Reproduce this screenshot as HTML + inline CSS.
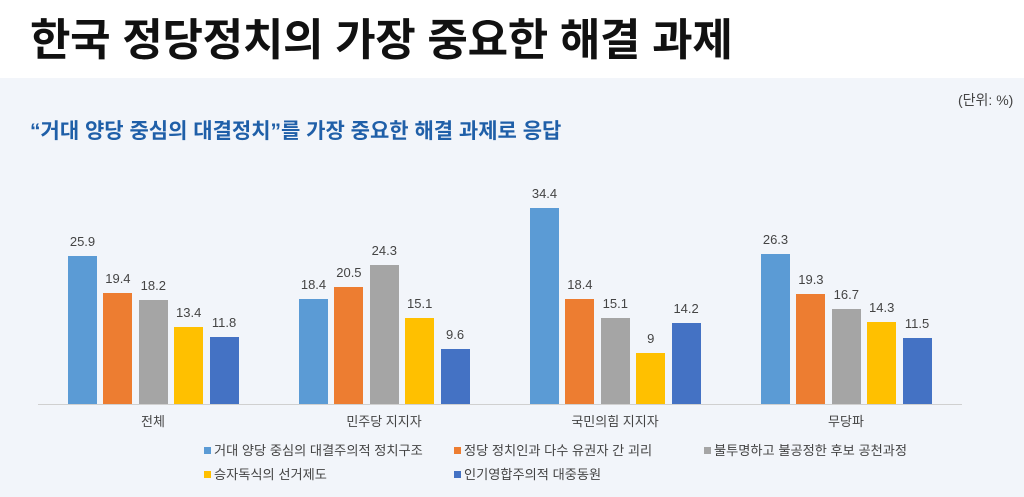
<!DOCTYPE html><html><head><meta charset="utf-8"><style>
body{margin:0;width:1024px;height:497px;overflow:hidden;background:#fff;font-family:"Liberation Sans","Noto Sans CJK KR",sans-serif;position:relative}
.t{position:absolute;white-space:nowrap}
.panel{position:absolute;left:0;top:78px;width:1024px;height:419px;background:#f2f5fa}
.b{position:absolute;width:29px}
.v{position:absolute;width:50px;text-align:center;font-size:13px;color:#444}
.c{position:absolute;width:200px;text-align:center;font-size:13px;color:#444;top:411px}
.l{position:absolute;font-size:13.2px;color:#444;white-space:nowrap}
.l i{display:inline-block;width:7px;height:7px;margin-right:3px;vertical-align:1px}
</style></head><body>
<div class="t" style="left:30px;top:4px;font-size:44px;font-weight:bold;color:#111;letter-spacing:-0.3px">한국 정당정치의 가장 중요한 해결 과제</div>
<div class="panel"></div>
<div class="t" style="left:958px;top:90px;font-size:14px;color:#444">(단위: %)</div>
<div class="t" style="left:30px;top:115px;font-size:21px;font-weight:bold;color:#1f5fa8;letter-spacing:0px">“거대 양당 중심의 대결정치”를 가장 중요한 해결 과제로 응답</div>
<div style="position:absolute;left:38px;top:404px;width:924px;height:1px;background:#d0d0d0"></div>
<div id="bars"></div>
<div class="c" style="left:53px">전체</div>
<div class="c" style="left:284px">민주당 지지자</div>
<div class="c" style="left:515px">국민의힘 지지자</div>
<div class="c" style="left:746px">무당파</div>
<div class="l" style="left:204px;top:440px"><i style="background:#5b9bd5"></i>거대 양당 중심의 대결주의적 정치구조</div>
<div class="l" style="left:454px;top:440px"><i style="background:#ed7d31"></i>정당 정치인과 다수 유권자 간 괴리</div>
<div class="l" style="left:704px;top:440px"><i style="background:#a5a5a5"></i>불투명하고 불공정한 후보 공천과정</div>
<div class="l" style="left:204px;top:464px"><i style="background:#ffc000"></i>승자독식의 선거제도</div>
<div class="l" style="left:454px;top:464px"><i style="background:#4472c4"></i>인기영합주의적 대중동원</div>
<script>
var d=[[25.9,19.4,18.2,13.4,11.8],[18.4,20.5,24.3,15.1,9.6],[34.4,18.4,15.1,9,14.2],[26.3,19.3,16.7,14.3,11.5]];
var col=['#5b9bd5','#ed7d31','#a5a5a5','#ffc000','#4472c4'],h='';
d.forEach(function(g,gi){g.forEach(function(v,i){var x=68+gi*231+i*35.4,hh=v*5.71,top=404-hh;
h+='<div class="b" style="left:'+x+'px;top:'+top+'px;height:'+hh+'px;background:'+col[i]+'"></div>';
h+='<div class="v" style="left:'+(x-10.5)+'px;top:'+(top-22)+'px">'+v+'</div>';});});
document.getElementById('bars').innerHTML=h;
</script>
</body></html>
